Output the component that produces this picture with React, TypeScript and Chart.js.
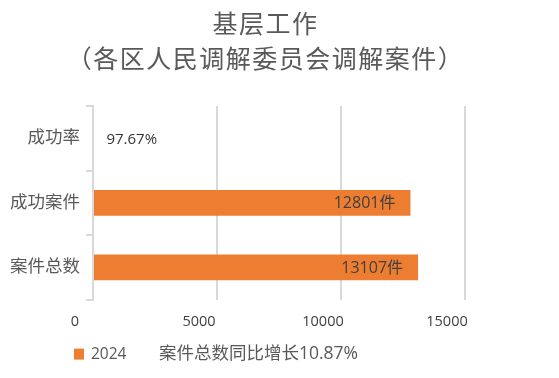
import React, { useEffect, useRef } from 'react';
import { Chart, registerables } from 'chart.js';

Chart.register(...registerables);

const titleLines = ['基层工作', '（各区人民调解委员会调解案件）'];
const categories = ['成功率', '成功案件', '案件总数'];
const seriesName = '2024';
const values = [97.67, 12801, 13107];
const valueSuffixes = ['%', '件', '件'];
const xTickValues = [0, 5000, 10000, 15000];
const noteText = '案件总数同比增长10.87%';

const FONT = "'Open Sans', 'Noto Sans CJK SC', sans-serif";
const ORANGE = '#ED7D31';
const GRAY = '#595959';

const titlePlugin = {
  id: 'twoLineTitle',
  afterDraw(chart: any) {
    const ctx = chart.ctx;
    ctx.save();
    ctx.fillStyle = GRAY;
    ctx.font = `25px ${FONT}`;
    ctx.textAlign = 'center';
    ctx.textBaseline = 'middle';
    try { (ctx as any).letterSpacing = '1.5px'; } catch (e) {}
    const cx = chart.width / 2 - 14;
    titleLines.forEach((line, i) => {
      ctx.fillText(line, cx, 26 + i * 35);
    });
    ctx.restore();
  },
};

const labelPlugin = {
  id: 'barLabels',
  afterDatasetsDraw(chart: any) {
    const ctx = chart.ctx;
    const meta = chart.getDatasetMeta(0);
    ctx.save();
    ctx.textBaseline = 'middle';
    meta.data.forEach((bar: any, i: number) => {
      const text = `${values[i]}${valueSuffixes[i]}`;
      if (i === 0) {
        ctx.font = `15px ${FONT}`;
        ctx.fillStyle = '#333333';
        ctx.textAlign = 'left';
        ctx.fillText(text, bar.x + 11, bar.y + 1);
      } else {
        ctx.font = `16px ${FONT}`;
        ctx.fillStyle = '#404040';
        ctx.textAlign = 'right';
        ctx.fillText(text, bar.x - 15, bar.y + 1);
      }
    });
    ctx.restore();
  },
};

const legendNotePlugin = {
  id: 'legendNote',
  afterDraw(chart: any) {
    const ctx = chart.ctx;
    const { left, bottom } = chart.chartArea;
    const ds = chart.data.datasets[0];
    ctx.save();
    ctx.fillStyle = ORANGE;
    ctx.fillRect(left - 19, bottom + 49, 10, 11);
    ctx.textBaseline = 'middle';
    ctx.textAlign = 'left';
    ctx.fillStyle = GRAY;
    ctx.font = `15.5px ${FONT}`;
    ctx.fillText(ds.label, left - 2, bottom + 55);
    ctx.font = `17.5px ${FONT}`;
    ctx.fillText(noteText, left + 66, bottom + 54);
    ctx.restore();
  },
};

export default function App() {
  const ref = useRef<HTMLCanvasElement>(null);
  useEffect(() => {
    document.body.style.margin = '0';
    const canvas = ref.current!;
    const chart = new Chart(canvas, {
      type: 'bar',
      data: {
        labels: categories,
        datasets: [
          {
            label: seriesName,
            data: values,
            backgroundColor: values.map((_, i) => (i === 0 ? 'rgba(0,0,0,0)' : ORANGE)),
            barPercentage: 0.4,
            categoryPercentage: 1,
          },
        ],
      },
      options: {
        indexAxis: 'y',
        responsive: false,
        animation: false,
        devicePixelRatio: 1,
        layout: { padding: { left: 4, right: 94, top: 106, bottom: 33 } },
        plugins: {
          legend: { display: false },
          tooltip: { enabled: false },
          title: { display: false },
        },
        scales: {
          x: {
            min: 0,
            max: 15000,
            afterBuildTicks: (scale: any) => {
              scale.ticks = xTickValues.map((v) => ({ value: v }));
            },
            grid: { color: '#d9d9d9', lineWidth: 2, drawTicks: false },
            border: { display: false },
            ticks: {
              color: '#404040',
              font: { family: FONT, size: 14.5 },
              padding: 14,
              labelOffset: -18,
              callback: (v: any) => String(v),
            },
          },
          y: {
            grid: {
              drawOnChartArea: false,
              drawTicks: true,
              tickLength: 7,
              color: '#d9d9d9',
              lineWidth: 2,
              offset: true,
            },
            border: { color: '#d9d9d9', width: 2 },
            ticks: { color: GRAY, font: { family: FONT, size: 17.5 }, padding: 6 },
          },
        },
      },
      plugins: [titlePlugin, labelPlugin, legendNotePlugin],
    });
    return () => chart.destroy();
  }, []);
  return (
    <div style={{ width: 559, height: 378 }}>
      <canvas ref={ref} width={559} height={378} style={{ display: 'block' }} />
    </div>
  );
}
